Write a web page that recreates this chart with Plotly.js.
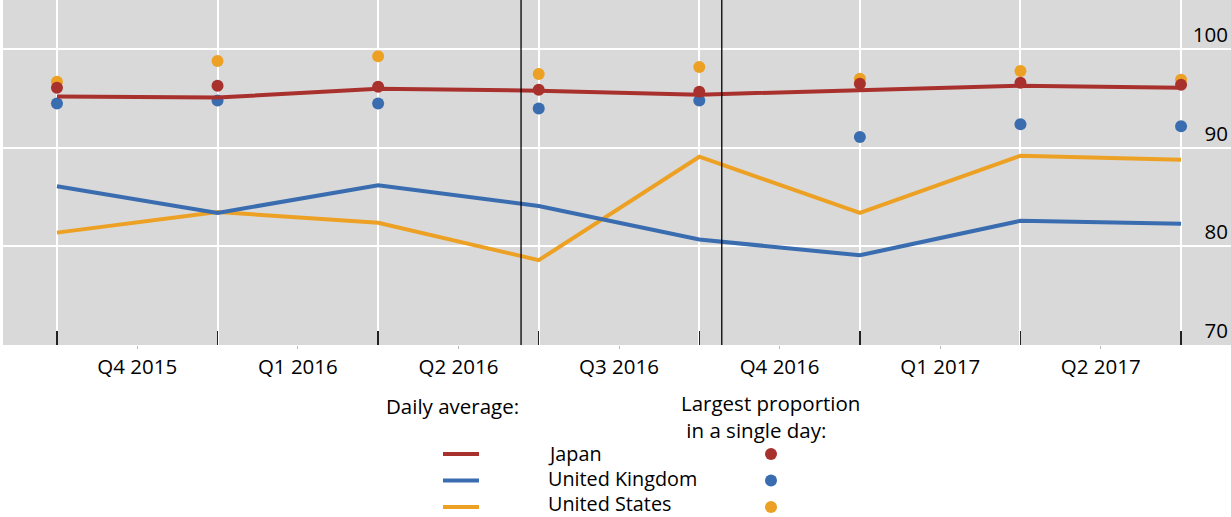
<!DOCTYPE html>
<html><head><meta charset="utf-8">
<script src="https://cdn.plot.ly/plotly-3.0.1.min.js"></script>
<style>html,body{margin:0;padding:0;background:#fff}</style>
</head><body><div id="chart" style="width:1231px;height:517px"></div>
<script>
// ---- data ----
const pointIndex = [0, 1, 2, 3, 4, 5, 6, 7];
const quarterLabels = ['Q4 2015', 'Q1 2016', 'Q2 2016', 'Q3 2016', 'Q4 2016', 'Q1 2017', 'Q2 2017'];
const quarterPositions = [0.5, 1.5, 2.5, 3.5, 4.5, 5.5, 6.5];
const countries = ['Japan', 'United Kingdom', 'United States'];
const japanDailyAvg = [95.2, 95.1, 96.0, 95.8, 95.4, 95.9, 96.3, 96.1];
const ukDailyAvg    = [86.1, 83.4, 86.2, 84.1, 80.7, 79.1, 82.6, 82.3];
const usDailyAvg    = [81.4, 83.5, 82.4, 78.6, 89.1, 83.4, 89.2, 88.8];
const japanMax = [96.1, 96.3, 96.2, 95.9, 95.7, 96.5, 96.6, 96.4];
const ukMax    = [94.5, 94.8, 94.5, 94.0, 94.8, 91.1, 92.4, 92.2];
const usMax    = [96.7, 98.8, 99.3, 97.5, 98.2, 97.0, 97.8, 96.9];
const eventPositions = [2.89, 4.14];
const yTicks = [70, 80, 90, 100];

// ---- style ----
const RED = '#A8312E', BLUE = '#3A6CB0', ORANGE = '#EDA124';
const colors = [RED, BLUE, ORANGE];
const FONT = 'Open Sans, Noto Sans, sans-serif';
const FS = 20.5, LFS = 19.8;
const W = 1231, H = 517, ML = 3, MR = 0, MT = 0, MB = 172;
const PW = W - ML - MR, PH = H - MT - MB;
const px = x => (x - ML) / PW;
const py = y => (H - MB - y) / PH;

const traces = [
  {x: pointIndex, y: usMax, mode: 'markers', marker: {color: ORANGE, size: 12}},
  {x: pointIndex, y: ukMax, mode: 'markers', marker: {color: BLUE, size: 12}},
  {x: pointIndex, y: usDailyAvg, mode: 'lines', line: {color: ORANGE, width: 4}},
  {x: pointIndex, y: ukDailyAvg, mode: 'lines', line: {color: BLUE, width: 4}},
  {x: pointIndex, y: japanDailyAvg, mode: 'lines', line: {color: RED, width: 4}},
  {x: pointIndex, y: japanMax, mode: 'markers', marker: {color: RED, size: 12}},
];

const shapes = eventPositions.map(e => ({
  type: 'line', xref: 'x', yref: 'paper', x0: e, x1: e, y0: 0, y1: 1,
  line: {color: '#000', width: 1.3}
}));
const annotations = [];
const txt = (t, x, y, xanchor, size, extra) => annotations.push(Object.assign({
  text: t, xref: 'paper', yref: 'paper', x: px(x), y: py(y), xanchor: xanchor, yanchor: 'middle',
  showarrow: false, borderpad: 0, font: {family: FONT, size: size, color: '#000'}
}, extra || {}));
txt('Daily average:', 385, 406, 'left', FS);
txt('Largest proportion<br> in a single day:', 680, 417, 'left', FS, {align: 'left'});
const rowY = [454, 480.5, 507];
const rowTextY = [453, 478.5, 503.5];
countries.forEach((c, i) => {
  txt(c, 547, rowTextY[i], 'left', LFS);
  shapes.push({type: 'line', xref: 'paper', yref: 'paper', x0: px(443), x1: px(479), y0: py(rowY[i]), y1: py(rowY[i]),
    line: {color: colors[i], width: 4}});
  shapes.push({type: 'circle', xref: 'paper', yref: 'paper', x0: px(765), x1: px(777), y0: py(rowY[i] - 6), y1: py(rowY[i] + 6),
    fillcolor: colors[i], line: {width: 0}});
});

const xRange = [-0.336, 7.311];
const layout = {
  width: W, height: H,
  margin: {l: ML, r: MR, t: MT, b: MB, pad: 0},
  paper_bgcolor: '#fff', plot_bgcolor: '#D9D9D9',
  showlegend: false,
  font: {family: FONT, size: FS, color: '#000'},
  xaxis: {
    range: xRange, tickvals: pointIndex, showticklabels: false,
    ticks: 'inside', ticklen: 14, tickwidth: 1.5, tickcolor: '#222',
    showgrid: true, gridcolor: '#fff', gridwidth: 2, zeroline: false, showline: false, fixedrange: true
  },
  xaxis2: {
    overlaying: 'x', matches: 'x', range: xRange, side: 'bottom', anchor: 'y',
    tickvals: quarterPositions, ticktext: quarterLabels,
    ticks: 'outside', ticklen: 3, tickwidth: 1, tickcolor: '#bbb',
    showgrid: false, zeroline: false, showline: false, ticklabelstandoff: 0,
    tickfont: {family: FONT, size: FS, color: '#000'}
  },
  yaxis: {
    range: [70, 105], side: 'right', tickvals: yTicks, ticks: '',
    ticklabelposition: 'inside top', showgrid: true, gridcolor: '#fff', gridwidth: 2,
    zeroline: false, showline: false, tickfont: {family: FONT, size: FS, color: '#000'}, fixedrange: true
  },
  shapes: shapes,
  annotations: annotations
};
traces.push({x: [0], y: [null], xaxis: 'x2', yaxis: 'y', mode: 'markers', hoverinfo: 'skip', showlegend: false});
Plotly.newPlot('chart', traces, layout, {displayModeBar: false, staticPlot: true});
</script></body></html>
